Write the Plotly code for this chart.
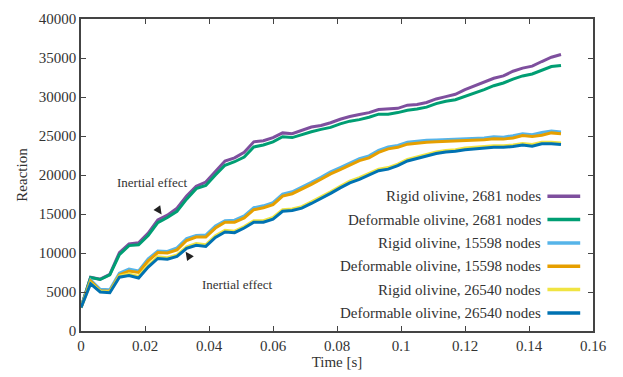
import plotly.graph_objects as go

time_s = [round(0.003 * i, 3) for i in range(51)]

rigid_2681 = [3000, 6900, 6650, 7250, 10050, 11150, 11300, 12550, 14250, 14850,
              15750, 17300, 18550, 19100, 20450, 21800, 22200, 22900, 24250, 24400,
              24800, 25400, 25300, 25700, 26150, 26350, 26700, 27150, 27500, 27750,
              28000, 28400, 28450, 28550, 28950, 29050, 29300, 29750, 30050, 30350,
              30950, 31400, 31900, 32400, 32700, 33300, 33700, 33950, 34550, 35100, 35450]
deform_2681 = [3000, 6850, 6600, 7200, 9800, 10950, 11050, 12250, 13900, 14550,
               15350, 16900, 18250, 18650, 20000, 21250, 21700, 22300, 23600, 23850,
               24250, 24900, 24800, 25200, 25550, 25850, 26100, 26550, 26900, 27100,
               27400, 27800, 27800, 28000, 28300, 28450, 28700, 29150, 29450, 29650,
               30050, 30500, 30950, 31450, 31800, 32300, 32700, 32950, 33400, 33900, 34050]
rigid_15598 = [3000, 6550, 5350, 5300, 7400, 7950, 7700, 9250, 10250, 10200,
               10650, 11850, 12250, 12300, 13450, 14150, 14200, 14750, 15800, 16050,
               16450, 17550, 17850, 18400, 19050, 19700, 20400, 20950, 21550, 22100,
               22450, 23150, 23600, 23800, 24200, 24350, 24450, 24500, 24550, 24550,
               24600, 24650, 24750, 24900, 24850, 25050, 25300, 25150, 25450, 25650, 25500]
deform_15598 = [3000, 6400, 5150, 5100, 7200, 7700, 7500, 9000, 10050, 10000,
                10400, 11600, 12050, 12050, 13200, 13950, 13950, 14500, 15550, 15800,
                16200, 17300, 17600, 18150, 18800, 19450, 20150, 20700, 21300, 21850,
                22200, 22900, 23350, 23550, 23950, 24100, 24200, 24250, 24300, 24300,
                24350, 24420, 24520, 24650, 24600, 24750, 25050, 24950, 25100, 25400, 25300]
rigid_26540 = [3000, 6150, 5100, 5000, 7050, 7300, 7000, 8400, 9500, 9400,
               9750, 10800, 11200, 11050, 12200, 12900, 12800, 13400, 14150, 14150,
               14550, 15550, 15650, 15950, 16550, 17150, 17850, 18550, 19200, 19650,
               20150, 20750, 20950, 21400, 22000, 22300, 22600, 22950, 23150, 23250,
               23450, 23550, 23650, 23750, 23750, 23850, 24050, 23900, 24200, 24200, 24100]
deform_26540 = [3000, 6050, 5000, 4900, 6900, 7100, 6800, 8200, 9300, 9200,
                9550, 10600, 11000, 10850, 12000, 12700, 12600, 13200, 13950, 13950,
                14350, 15350, 15450, 15750, 16350, 16950, 17650, 18350, 19000, 19450,
                19950, 20550, 20750, 21200, 21800, 22100, 22400, 22750, 22950, 23050,
                23250, 23350, 23450, 23550, 23550, 23650, 23850, 23700, 24000, 24000, 23900]

series_names = ["Rigid olivine, 2681 nodes", "Deformable olivine, 2681 nodes",
                "Rigid olivine, 15598 nodes", "Deformable olivine, 15598 nodes",
                "Rigid olivine, 26540 nodes", "Deformable olivine, 26540 nodes"]
series_values = [rigid_2681, deform_2681, rigid_15598, deform_15598, rigid_26540, deform_26540]
series_colors = ["#7E4F9E", "#009E73", "#56B4E9", "#E69F00", "#F0E442", "#0072B2"]

x_ticks = [0, 0.02, 0.04, 0.06, 0.08, 0.1, 0.12, 0.14, 0.16]
x_tick_text = ["0", "0.02", "0.04", "0.06", "0.08", "0.1", "0.12", "0.14", "0.16"]
y_ticks = [0, 5000, 10000, 15000, 20000, 25000, 30000, 35000, 40000]
y_tick_text = ["0", "5000", "10000", "15000", "20000", "25000", "30000", "35000", "40000"]

FONT = "Liberation Serif"
TXT = "#333333"

fig = go.Figure()
for name, vals, col in zip(series_names, series_values, series_colors):
    fig.add_trace(go.Scatter(x=time_s, y=vals, mode="lines", name=name,
                             line=dict(color=col, width=3), showlegend=False))

# manual legend (text right-aligned, line sample on the right)
annotations = []
shapes = []
row0 = 0.432
dy = 0.0748
for i, (name, col) in enumerate(zip(series_names, series_colors)):
    yy = row0 - i * dy
    annotations.append(dict(x=0.903, y=yy, xref="paper", yref="paper", text=name,
                            showarrow=False, xanchor="right", yanchor="middle",
                            font=dict(family=FONT, size=15, color=TXT)))
    shapes.append(dict(type="line", xref="paper", yref="paper", x0=0.911, x1=0.975,
                       y0=yy, y1=yy, line=dict(color=col, width=3.5)))

# Inertial effect annotations
annotations.append(dict(x=0.0223, y=19000, text="Inertial effect", showarrow=False,
                        font=dict(family=FONT, size=13, color=TXT)))
annotations.append(dict(x=0.0488, y=5950, text="Inertial effect", showarrow=False,
                        font=dict(family=FONT, size=13, color=TXT)))
annotations.append(dict(x=0.0252, y=14950, text="", showarrow=True, arrowhead=2,
                        arrowsize=1.1, arrowwidth=1.5, arrowcolor="#222222",
                        ax=-5, ay=-7))
annotations.append(dict(x=0.0327, y=10150, text="", showarrow=True, arrowhead=2,
                        arrowsize=1.1, arrowwidth=1.5, arrowcolor="#222222",
                        ax=5, ay=7))

axis_common = dict(showline=True, linecolor="#444444", linewidth=1.5, mirror="ticks",
                   ticks="inside", ticklen=5, tickwidth=1.2, tickcolor="#444444",
                   showgrid=False, zeroline=False,
                   tickfont=dict(family=FONT, size=15, color=TXT))

fig.update_layout(
    width=623, height=377,
    margin=dict(l=81, r=30, t=11, b=41),
    plot_bgcolor="white", paper_bgcolor="white",
    xaxis=dict(range=[0, 0.16], tickvals=x_ticks, ticktext=x_tick_text,
               title=dict(text="Time [s]", font=dict(family=FONT, size=15, color=TXT), standoff=2),
               **axis_common),
    yaxis=dict(range=[0, 40000], tickvals=y_ticks, ticktext=y_tick_text,
               title=dict(text="Reaction", font=dict(family=FONT, size=15, color=TXT), standoff=8),
               **axis_common),
    annotations=annotations,
    shapes=shapes,
)

fig.write_html("out.html")
